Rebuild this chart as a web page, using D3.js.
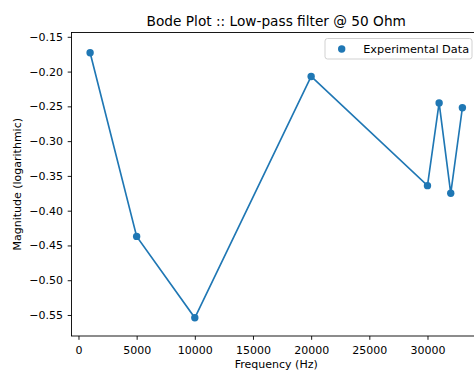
<!DOCTYPE html>
<html>
<head>
<meta charset="utf-8">
<script src="https://cdn.jsdelivr.net/npm/d3@7"></script>
<style>
  html, body { margin: 0; padding: 0; background: #fff; }
  svg { display: block; font-family: "DejaVu Sans", sans-serif; }
</style>
</head>
<body>
<svg id="chart" width="474" height="371"></svg>
<script>
const frequencies = [1000, 5000, 10000, 20000, 30000, 31000, 32000, 33000];
const magnitudes = [-0.173, -0.437, -0.554, -0.207, -0.364, -0.245, -0.375, -0.252];
const xTicks = [0, 5000, 10000, 15000, 20000, 25000, 30000];
const yTicks = [-0.15, -0.20, -0.25, -0.30, -0.35, -0.40, -0.45, -0.50, -0.55];
const seriesName = "Experimental Data";
const titleText = "Bode Plot :: Low-pass filter @ 50 Ohm";
const xLabel = "Frequency (Hz)";
const yLabel = "Magnitude (logarithmic)";

(function () {
const color = "#1f77b4";
const fs = 11;
const svg = d3.select("#chart");
const pL = 71.5, pR = 481, pT = 32.5, pB = 336;

const x = d3.scaleLinear().domain([-600, 34600]).range([pL, pR]);
const y = d3.scaleLinear().domain([-0.5802, -0.1438]).range([pB, pT]);

const xAxis = d3.axisBottom(x).tickValues(xTicks).tickSize(3.8).tickPadding(6.3).tickFormat(d3.format("d"));
const yAxis = d3.axisLeft(y).tickValues(yTicks).tickSize(3.8).tickPadding(4.8).tickFormat(d => d3.format(".2f")(d).replace("-", "\u2212"));

const gx = svg.append("g").attr("transform", `translate(0,${pB})`).call(xAxis);
const gy = svg.append("g").attr("transform", `translate(${pL},0)`).call(yAxis);
[gx, gy].forEach(g => {
  g.select(".domain").remove();
  g.selectAll("text").attr("font-size", fs).attr("fill", "#000").attr("font-family", "DejaVu Sans, sans-serif");
  g.selectAll("line").attr("stroke", "#000").attr("stroke-width", 0.9);
});

svg.append("rect").attr("x", pL).attr("y", pT).attr("width", pR - pL).attr("height", pB - pT)
  .attr("fill", "none").attr("stroke", "#000").attr("stroke-width", 0.9);

const data = frequencies.map((f, i) => ({ f, m: magnitudes[i] }));

svg.append("path").datum(data)
  .attr("fill", "none").attr("stroke", color).attr("stroke-width", 1.65)
  .attr("d", d3.line().x(d => x(d.f)).y(d => y(d.m)));

svg.append("g").selectAll("circle").data(data).join("circle")
  .attr("cx", d => x(d.f)).attr("cy", d => y(d.m)).attr("r", 3.7).attr("fill", color);

svg.append("text").attr("x", (pL + pR) / 2).attr("y", 25.7).attr("text-anchor", "middle")
  .attr("font-size", 13.7).attr("fill", "#000").text(titleText);

svg.append("text").attr("x", (pL + pR) / 2).attr("y", 368.3).attr("text-anchor", "middle")
  .attr("font-size", fs).attr("fill", "#000").text(xLabel);
svg.append("text").attr("transform", `translate(21,${(pT + pB) / 2}) rotate(-90)`)
  .attr("text-anchor", "middle").attr("font-size", fs).attr("fill", "#000").text(yLabel);

const lg = svg.append("g");
lg.append("rect").attr("x", 325).attr("y", 38.5).attr("width", 147).attr("height", 20.5).attr("rx", 2.5)
  .attr("fill", "#fff").attr("fill-opacity", 0.8).attr("stroke", "#cccccc").attr("stroke-width", 0.9);
lg.append("circle").attr("cx", 341.7).attr("cy", 49).attr("r", 3.7).attr("fill", color);
lg.append("text").attr("x", 363.2).attr("y", 53).attr("font-size", 11.3).attr("fill", "#000").text(seriesName);
})();
</script>
</body>
</html>
